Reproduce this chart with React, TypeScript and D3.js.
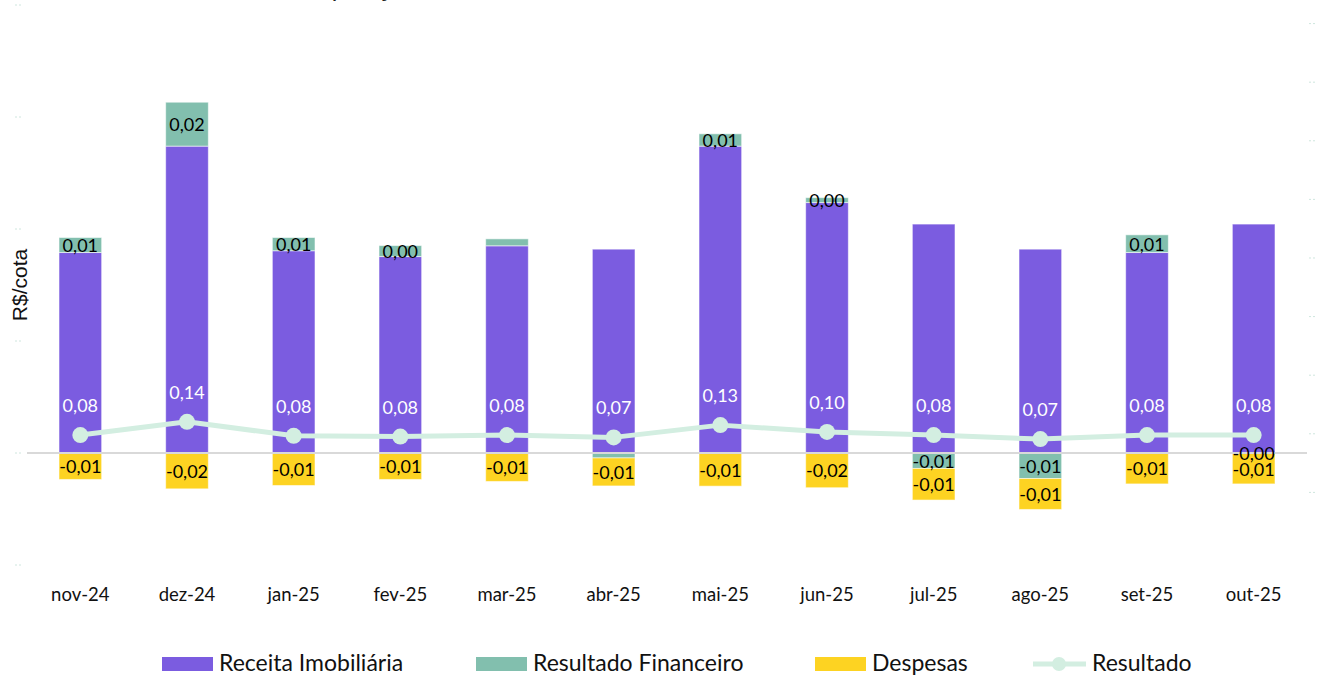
import React from "react";
import * as d3 from "d3";

// valores em R$/cota
const months = ["nov-24", "dez-24", "jan-25", "fev-25", "mar-25", "abr-25", "mai-25", "jun-25", "jul-25", "ago-25", "set-25", "out-25"];
const receita = [0.0895, 0.137, 0.0903, 0.0877, 0.0925, 0.091, 0.137, 0.1118, 0.1022, 0.091, 0.0895, 0.1022];
const financeiro = [0.0067, 0.0196, 0.0059, 0.0049, 0.0031, -0.0022, 0.0055, 0.0022, -0.0069, -0.0114, 0.0079, -0.0002];
const despesas = [-0.0118, -0.016, -0.0145, -0.0118, -0.0127, -0.0125, -0.0148, -0.0155, -0.0141, -0.0138, -0.0138, -0.0136];
const resultado = [0.0845, 0.141, 0.0815, 0.078, 0.0845, 0.0747, 0.127, 0.098, 0.0845, 0.0674, 0.0845, 0.0845];
const hideFinLabel = ["mar-25", "abr-25"];

const leftTicks = [-0.05, 0, 0.05, 0.1, 0.15, 0.2];
const rightTicks = [-0.16, 0.09, 0.34, 0.59, 0.84, 1.09, 1.34, 1.59, 1.84];

const keys = ["receita", "financeiro", "despesas"];
const colors = { receita: "#7B5CE0", financeiro: "#82BFAE", despesas: "#FDD322" };
const lineColor = "#D3EEE1";

const W = 1323;
const H = 675;
const fmt = (v: number) => v.toFixed(2).replace(".", ",");

export default function App() {
  const rows = months.map((m, i) => ({
    month: m,
    receita: receita[i],
    financeiro: financeiro[i],
    despesas: despesas[i],
  }));

  const x = d3.scaleBand().domain(months).range([27, 1307]).paddingInner(0.6).paddingOuter(0.3);
  const y = d3.scaleLinear().domain([-0.05, 0.2]).range([565, 5]);
  const y2 = d3.scaleLinear().domain([-0.474, 1.915]).range([566, 6]);

  const series = d3.stack().keys(keys).offset(d3.stackOffsetDiverging)(rows as any);

  const line = d3
    .line<number>()
    .x((_, i) => x(months[i])! + x.bandwidth() / 2)
    .y((d) => y2(d));

  const legend = [
    { label: "Receita Imobiliária", x: 162, type: "rect", color: colors.receita },
    { label: "Resultado Financeiro", x: 476, type: "rect", color: colors.financeiro },
    { label: "Despesas", x: 815, type: "rect", color: colors.despesas },
    { label: "Resultado", x: 1033, type: "line", color: lineColor },
  ];

  return (
    <svg width={W} height={H} style={{ position: "absolute", left: 0, top: 0 }} fontFamily="Lato, 'Noto Sans', sans-serif">
      <text x={279} y={-4} fontSize={25} fontFamily="'Liberation Sans', Arial" fill="#222">
        Composição do Resultado
      </text>

      {/* marcas dos eixos, quase invisíveis */}
      {leftTicks.map((t) => (
        <line key={"l" + t} x1={15} x2={22} y1={y(t)} y2={y(t)} stroke="#cfe6de" strokeDasharray="2,2" />
      ))}
      {rightTicks.map((t) => (
        <line key={"r" + t} x1={1309} x2={1316} y1={y2(t)} y2={y2(t)} stroke="#cfe6de" strokeDasharray="2,2" />
      ))}

      <text
        transform={`translate(27,285) rotate(-90)`}
        textAnchor="middle"
        fontSize={21}
        fontFamily="'Liberation Sans', Arial"
        fill="#111"
      >
        R$/cota
      </text>

      {series.map((s) => (
        <g key={s.key} fill={(colors as any)[s.key]}>
          {s.map((d: any) => (
            <rect
              key={d.data.month}
              x={x(d.data.month)}
              width={x.bandwidth()}
              y={y(Math.max(d[0], d[1]))}
              height={Math.abs(y(d[0]) - y(d[1]))}
              stroke="#ffffff"
              strokeOpacity={0.55}
              strokeWidth={1}
            />
          ))}
        </g>
      ))}

      <line x1={27} x2={1307} y1={y(0)} y2={y(0)} stroke="#d9d9d9" strokeWidth={2} />

      {/* rótulos financeiro e despesas */}
      {series
        .filter((s) => s.key !== "receita")
        .map((s) =>
          s.map((d: any) => {
            if (s.key === "financeiro" && hideFinLabel.includes(d.data.month)) return null;
            const v = d.data[s.key];
            return (
              <text
                key={s.key + d.data.month}
                x={x(d.data.month)! + x.bandwidth() / 2}
                y={(y(d[0]) + y(d[1])) / 2}
                textAnchor="middle"
                dominantBaseline="central"
                fontSize={18}
                fill="#000"
              >
                {fmt(v)}
              </text>
            );
          })
        )}

      <path d={line(resultado)!} fill="none" stroke={lineColor} strokeWidth={5} strokeLinejoin="round" />
      {resultado.map((v, i) => (
        <g key={"p" + i}>
          <circle cx={x(months[i])! + x.bandwidth() / 2} cy={y2(v)} r={8} fill={lineColor} />
          <text
            x={x(months[i])! + x.bandwidth() / 2}
            y={y2(v) - 30}
            textAnchor="middle"
            dominantBaseline="central"
            fontSize={18}
            fill="#fff"
          >
            {fmt(v)}
          </text>
        </g>
      ))}

      {months.map((m) => (
        <text key={"x" + m} x={x(m)! + x.bandwidth() / 2} y={594} textAnchor="middle" dominantBaseline="central" fontSize={18.5} fill="#111">
          {m}
        </text>
      ))}

      {legend.map((l) => (
        <g key={l.label}>
          {l.type === "rect" ? (
            <rect x={l.x} y={657} width={51} height={14} fill={l.color} />
          ) : (
            <g>
              <line x1={l.x} x2={l.x + 53} y1={664} y2={664} stroke={l.color} strokeWidth={5} />
              <circle cx={l.x + 26} cy={664} r={7} fill={l.color} />
            </g>
          )}
          <text x={l.x + (l.type === "rect" ? 57 : 59)} y={671} fontSize={23} fill="#111">
            {l.label}
          </text>
        </g>
      ))}
    </svg>
  );
}
